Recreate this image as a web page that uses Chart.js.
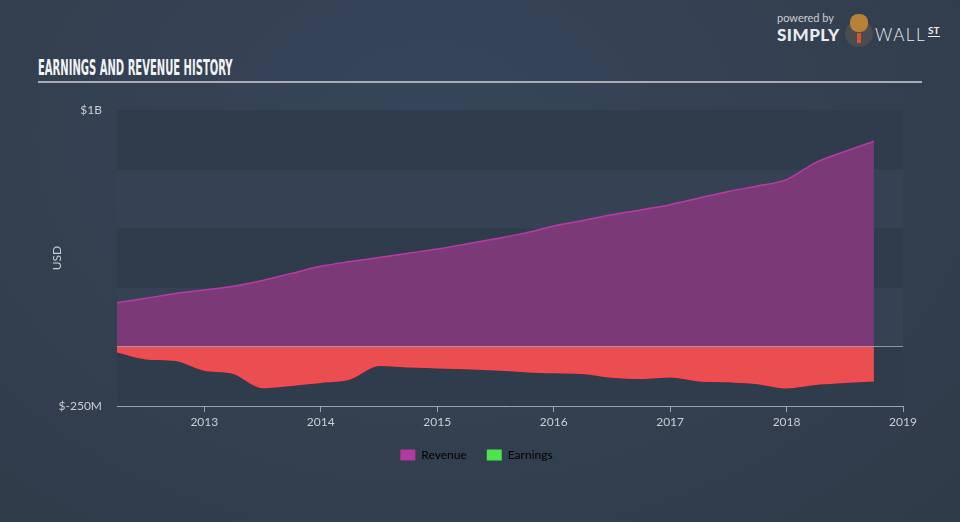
<!DOCTYPE html>
<html>
<head>
<meta charset="utf-8">
<script src="https://cdn.jsdelivr.net/npm/chart.js@4.4.1/dist/chart.umd.min.js"></script>
<style>
  html, body { margin: 0; padding: 0; }
  body {
    width: 960px; height: 522px; overflow: hidden; position: relative;
    background: radial-gradient(ellipse at 45% 25%, #37455a 0%, #334050 55%, #303b49 100%);
    font-family: Lato, sans-serif;
  }
  #wrap { position: absolute; left: 0; top: 0; width: 960px; height: 522px; }
  .title {
    position: absolute; left: 38px; top: 56px; white-space: nowrap;
    font-family: "Liberation Sans Narrow", "DejaVu Sans Condensed", sans-serif;
    font-weight: bold; font-size: 21px; color: #f2f3f5;
    transform: scaleX(0.53); transform-origin: left top;
  }
  .rule { position: absolute; left: 38px; top: 81px; width: 884px; height: 2px; background: #a7aeb6; }
  .logo { position: absolute; left: 777px; top: 9px; color: #e9ebee; }
  .powered { position: absolute; left: 0; top: 2px; font-size: 11px; color: #c9ced4; white-space: nowrap; }
  .simply { position: absolute; left: 0; top: 15px; font-size: 17px; font-weight: 900; letter-spacing: 0.5px; }
  .wall { position: absolute; left: 98px; top: 15px; font-size: 17px; font-weight: 300; letter-spacing: 1.5px; }
  .st { position: absolute; left: 151px; top: 16px; font-size: 10px; font-weight: bold; border-bottom: 1.5px solid #e9ebee; line-height: 11px; }
  .bull { position: absolute; left: 66px; top: 2px; width: 32px; height: 36px; }
  .bull .body { position: absolute; left: 2px; top: 9px; width: 28px; height: 27px; border-radius: 50%; background: #4b4c50; }
  .bull .head { position: absolute; left: 7px; top: 3px; width: 18px; height: 18px; border-radius: 45%; background: #b8813a; }
  .bull .tie { position: absolute; left: 14px; top: 22px; width: 4px; height: 10px; background: #d9542b; }
</style>
</head>
<body>
<div class="title">EARNINGS AND REVENUE HISTORY</div>
<div class="rule"></div>
<div class="logo">
  <span class="powered">powered by</span>
  <span class="simply">SIMPLY</span>
  <div class="bull"><div class="body"></div><div class="head"></div><div class="tie"></div></div>
  <span class="wall">WALL</span>
  <span class="st">ST</span>
</div>
<div id="wrap"><canvas id="chart" width="960" height="522"></canvas></div>
<script>
// colors
const revenueFill = "#7b3a77";
const revenueLine = "#b83ca6";
const earningsFill = "#eb4e51";
const earningsLine = "#ff4550";
const axisColor = "#9aa4ae";
const textColor = "#c9ced4";

// quarter ends, decimal years
const quarters = [
  2012.25, 2012.5, 2012.75, 2013, 2013.25, 2013.5, 2013.75,
  2014, 2014.25, 2014.5, 2014.75, 2015, 2015.25, 2015.5, 2015.75,
  2016, 2016.25, 2016.5, 2016.75, 2017, 2017.25, 2017.5, 2017.75,
  2018, 2018.25, 2018.5, 2018.75,
];
// $M
const revenue = [
  186, 205, 225, 240, 256, 280, 310,
  340, 360, 377, 395, 413, 434, 456, 480,
  510, 533, 558, 578, 600, 628, 656, 679,
  706, 778, 825, 868,
];
const earnings = [
  -21, -50, -57, -98, -112, -172, -162,
  -150, -135, -78, -84, -88, -92, -97, -104,
  -109, -112, -128, -133, -126, -143, -147, -155,
  -173, -158, -150, -143,
];
const yearTicks = [2013, 2014, 2015, 2016, 2017, 2018, 2019];
const yMin = -250;
const yMax = 1000;
const yStep = 250;

const points = (vals) => vals.map((v, i) => ({ x: quarters[i], y: v }));

// alternating horizontal bands behind the data, zero line on top
const bands = {
  id: "bands",
  beforeDatasetsDraw(chart) {
    const { ctx, chartArea, scales } = chart;
    ctx.save();
    let i = 0;
    for (let v = yMin; v < yMax; v += yStep, i++) {
      const top = scales.y.getPixelForValue(v + yStep);
      const bot = scales.y.getPixelForValue(v);
      ctx.fillStyle = i % 2 === 0 ? "#2f3c4b" : "#344253";
      ctx.fillRect(chartArea.left, top, chartArea.right - chartArea.left, bot - top);
    }
    ctx.restore();
  },
  afterDatasetsDraw(chart) {
    const { ctx, chartArea, scales } = chart;
    const y0 = Math.round(scales.y.getPixelForValue(0)) - 0.5;
    ctx.save();
    ctx.strokeStyle = "rgba(215,220,228,0.55)";
    ctx.lineWidth = 1;
    ctx.beginPath();
    ctx.moveTo(chartArea.left, y0);
    ctx.lineTo(chartArea.right, y0);
    ctx.stroke();
    ctx.restore();
  },
};

new Chart(document.getElementById("chart"), {
  type: "line",
  data: {
    datasets: [
      {
        label: "Revenue",
        data: points(revenue),
        borderColor: revenueLine,
        backgroundColor: revenueFill,
        borderWidth: 1.5,
        fill: "origin",
        pointRadius: 0,
        cubicInterpolationMode: "monotone",
      },
      {
        label: "Earnings",
        data: points(earnings),
        borderColor: earningsLine,
        backgroundColor: earningsFill,
        borderWidth: 1.5,
        fill: "origin",
        pointRadius: 0,
        cubicInterpolationMode: "monotone",
      },
    ],
  },
  options: {
    responsive: false,
    animation: false,
    layout: { padding: { left: 50, right: 57, top: 110, bottom: 51 } },
    scales: {
      x: {
        type: "linear",
        min: 2012.25,
        max: 2019,
        afterBuildTicks: (s) => { s.ticks = yearTicks.map((v) => ({ value: v })); },
        afterFit: (s) => { s.height = 23; },
        ticks: {
          color: textColor,
          font: { family: "Lato", size: 12 },
          padding: 3,
          maxRotation: 0,
          autoSkip: false,
          callback: (v) => String(v),
        },
        grid: { drawOnChartArea: false, drawTicks: true, tickLength: 6, color: axisColor },
        border: { display: true, color: axisColor },
      },
      y: {
        min: yMin,
        max: yMax,
        afterFit: (s) => { s.width = 67; },
        ticks: {
          stepSize: yStep,
          color: textColor,
          font: { family: "Lato", size: 12 },
          padding: 15,
          callback: (v) => (v === yMax ? "$1B" : v === yMin ? "$-250M" : ""),
        },
        grid: { display: false, drawTicks: false },
        border: { display: false },
        title: {
          display: true,
          text: "USD",
          color: textColor,
          font: { family: "Lato", size: 12 },
          padding: { top: 0, bottom: 0 },
        },
      },
    },
    plugins: {
      legend: {
        position: "bottom",
        labels: {
          boxWidth: 15,
          boxHeight: 11,
          padding: 20,
          color: "#d3d7dc",
          font: { family: "Lato", size: 12 },
          generateLabels: () => [
            { text: "Revenue", fillStyle: "#b23a9f", strokeStyle: "#b23a9f", lineWidth: 0, datasetIndex: 0 },
            { text: "Earnings", fillStyle: "#4fe24f", strokeStyle: "#4fe24f", lineWidth: 0, datasetIndex: 1 },
          ],
        },
      },
      tooltip: { enabled: false },
    },
  },
  plugins: [bands],
});
</script>
</body>
</html>
